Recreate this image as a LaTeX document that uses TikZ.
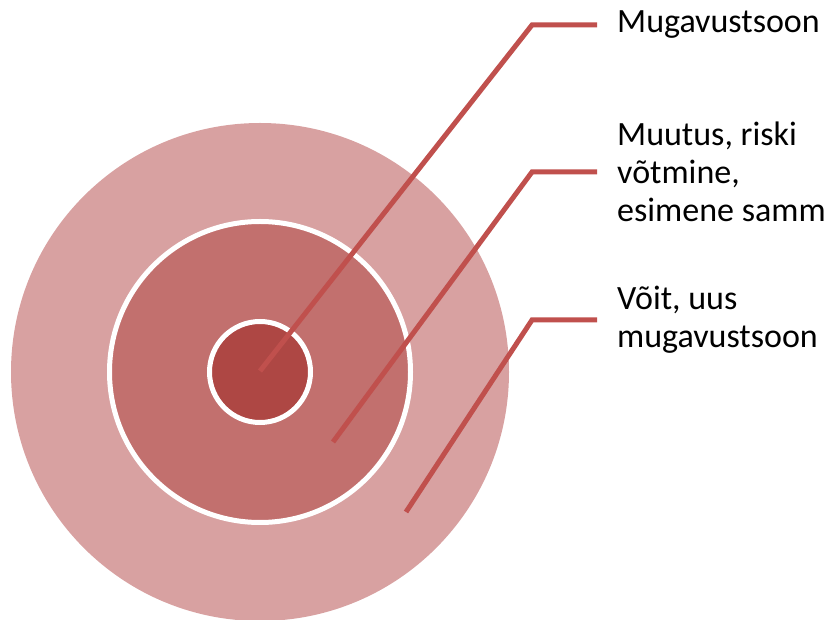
\documentclass[tikz,border=0pt]{standalone}
\usepackage{fontspec}
\setmainfont{Carlito}
\usetikzlibrary{positioning}
\definecolor{valimine}{RGB}{216,161,161}
\definecolor{keskmine}{RGB}{194,112,110}
\definecolor{sisemine}{RGB}{174,71,68}
\definecolor{joonevarv}{RGB}{192,80,77}

\begin{document}
\begin{tikzpicture}[x=1pt, y=1pt,
  ring/.style={circle, fill=#1, draw=white, line width=5pt, inner sep=0pt},
  joon/.style={joonevarv, line width=5pt},
  silt/.style={right=20pt of #1, align=left, inner sep=0pt,
    font=\fontsize{34}{38}\selectfont},
]
  \useasboundingbox (0,0) rectangle (828,619);
  % Tsoonid
  \node[ring=valimine, draw=none, minimum size=498pt] (valis) at (260,247) {};
  \node[ring=keskmine, minimum size=301pt] (kesk) at (260,247) {};
  \node[ring=sisemine, minimum size=101pt] (sise) at (260,247) {};
  % Joonte otsad
  \coordinate (c1) at (260,248);
  \coordinate (c2) at (333,177);
  \coordinate (c3) at (406,107);
  \coordinate (k1) at (532,594);
  \coordinate (k2) at (532,447);
  \coordinate (k3) at (532,299);
  \coordinate (e1) at (597,594);
  \coordinate (e2) at (597,447);
  \coordinate (e3) at (597,299);
  \foreach \i in {1,2,3}
    \draw[joon] (c\i) -- (k\i) -- (e\i);
  % Sildid
  \node[silt=e1] (t1) {Mugavustsoon};
  \node[silt=e2] (t2) {Muutus, riski\\võtmine,\\esimene samm};
  \node[silt=e3] (t3) {Võit, uus\\mugavustsoon};
\end{tikzpicture}
\end{document}
